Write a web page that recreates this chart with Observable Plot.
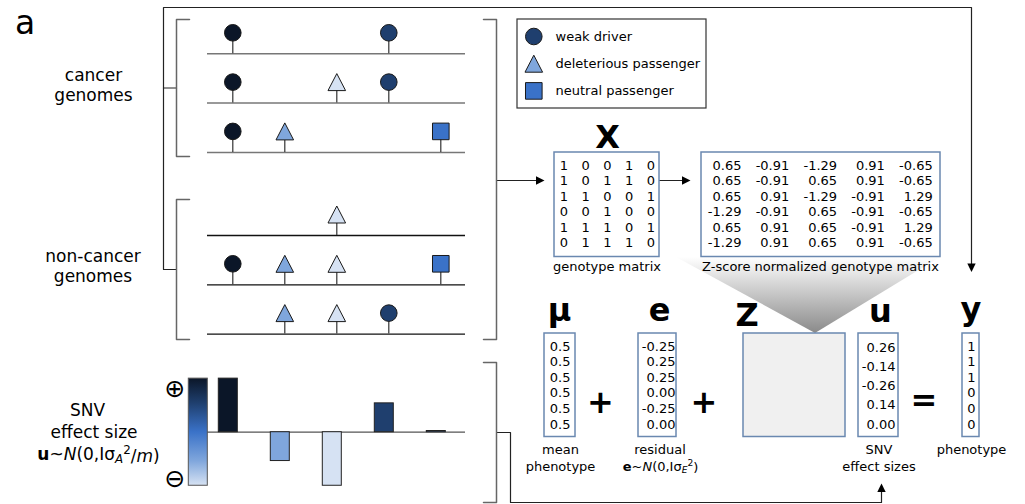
<!DOCTYPE html>
<html><head><meta charset="utf-8">
<script src="https://cdn.jsdelivr.net/npm/d3@7"></script>
<script src="https://cdn.jsdelivr.net/npm/@observablehq/plot@0.6"></script>
<style>body{margin:0;background:#fff}</style>
</head><body><div id="chart"></div>
<script>
// ---------------- DATA ----------------
const snvs = ["SNV1", "SNV2", "SNV3", "SNV4", "SNV5"];
const snvShapes = ["circle", "triangle", "triangle", "circle", "square"];
const effectSizes = [0.26, -0.14, -0.26, 0.14, 0.00];
const genomes = ["cancer 1", "cancer 2", "cancer 3", "non-cancer 1", "non-cancer 2", "non-cancer 3"];
const genomeGroup = ["cancer", "cancer", "cancer", "non-cancer", "non-cancer", "non-cancer"];
const groupNames = ["cancer", "non-cancer"];
const groupLabels = ["cancer\ngenomes", "non-cancer\ngenomes"];
const genotype = [
  [1, 0, 0, 1, 0],
  [1, 0, 1, 1, 0],
  [1, 1, 0, 0, 1],
  [0, 0, 1, 0, 0],
  [1, 1, 1, 0, 1],
  [0, 1, 1, 1, 0]
];
const zscores = [
  [0.65, -0.91, -1.29, 0.91, -0.65],
  [0.65, -0.91, 0.65, 0.91, -0.65],
  [0.65, 0.91, -1.29, -0.91, 1.29],
  [-1.29, -0.91, 0.65, -0.91, -0.65],
  [0.65, 0.91, 0.65, -0.91, 1.29],
  [-1.29, 0.91, 0.65, 0.91, -0.65]
];
const meanPhenotype = [0.5, 0.5, 0.5, 0.5, 0.5, 0.5];
const residuals = [-0.25, 0.25, 0.25, 0.00, -0.25, 0.00];
const phenotypes = [1, 1, 1, 0, 0, 0];
const legendLabels = ["weak driver", "deleterious passenger", "neutral passenger"];
const legendShapes = ["circle", "triangle", "square"];
const legendEffects = [0.14, -0.14, 0.00];
const matrixTitles = ["X", "μ", "e", "Z", "u", "y"];
const matrixCaptions = ["genotype matrix", "Z-score normalized genotype matrix"];

// ---------------- STYLE / LAYOUT ----------------
const W = 1025, H = 504;
const FONT = "DejaVu Sans";
const colorDomain = [-0.26, -0.14, 0, 0.14, 0.26];
const colorRange = ["#d6e2f3", "#7fa6dc", "#3a72c8", "#1f3f6e", "#0b1628"];
const BOX = "#6a88b0", GREY = "#666", DARK = "#222";
const L = {
  snvX0: 232.3, snvDx: 52,
  groupY0: {"cancer": 53.3, "non-cancer": 235}, rowDy: 49.3,
  lineX1: 207, lineX2: 465,
  markOff: 21, stem: 13,
  barBase: 431.7, barK: 206, barShift: -4.5, barHalf: 9.5,
  cbar: {x1: 188.3, x2: 207.3},
  genoCol0: 563.3, genoDx: 21.8, row0: 169.5, rowDy2: 15.4,
  zCol0: 741, zDx: 47.8,
  vecRow0: 350, vecDy: 15.6, uRow0: 351, uDy: 19.3
};
const snvX = j => L.snvX0 + j * L.snvDx;
const rowY = i => L.groupY0[genomeGroup[i]] + genomeGroup.slice(0, i).filter(g => g === genomeGroup[i]).length * L.rowDy;

const SYM = {
  circle: {draw(c) { c.moveTo(8.3, 0); c.arc(0, 0, 8.3, 0, 2 * Math.PI); c.closePath(); }},
  triangle: {draw(c) { c.moveTo(0, -8.5); c.lineTo(8.8, 8.5); c.lineTo(-8.8, 8.5); c.closePath(); }},
  square: {draw(c) { c.moveTo(-8.3, -8.3); c.lineTo(8.3, -8.3); c.lineTo(8.3, 8.3); c.lineTo(-8.3, 8.3); c.closePath(); }},
  arrow: {draw(c) { c.moveTo(0, 0); c.lineTo(-8.5, -4.2); c.lineTo(-8.5, 4.2); c.closePath(); }}
};

// ---------------- DERIVED TABLES ----------------
const genomeLines = genomes.map((g, i) => ({genome: g, group: genomeGroup[i], y: rowY(i), x1: L.lineX1, x2: L.lineX2}));
const mutations = genomes.flatMap((g, i) => snvs.map((s, j) => genotype[i][j] ? {
  genome: g, snv: s, shape: snvShapes[j], effect: effectSizes[j], x: snvX(j), line: rowY(i)
} : null).filter(Boolean));
const bars = snvs.map((s, j) => {
  const h = effectSizes[j] * L.barK;
  return {snv: s, effect: effectSizes[j], x1: snvX(j) + L.barShift - L.barHalf, x2: snvX(j) + L.barShift + L.barHalf,
    y1: L.barBase, y2: L.barBase - (Math.abs(h) < 1.2 ? 1.2 : h)};
});
const cbarMax = d3.max(colorDomain), cbarMin = d3.min(colorDomain);
const colorbar = [{x1: L.cbar.x1, x2: L.cbar.x2, y1: L.barBase - cbarMax * L.barK, y2: L.barBase - cbarMin * L.barK}];

const legendRows = legendLabels.map((label, k) => ({label, shape: legendShapes[k], effect: legendEffects[k], x: 533.3, y: 36 + k * 27.2}));

const genoTexts = genotype.flatMap((row, i) => row.map((v, j) => ({x: L.genoCol0 + j * L.genoDx, y: L.row0 + i * L.rowDy2, t: String(v)})));
const zTexts = zscores.flatMap((row, i) => row.map((v, j) => ({x: L.zCol0 + j * L.zDx, y: L.row0 + i * L.rowDy2, t: v.toFixed(2)})));
const muTexts = meanPhenotype.map((v, i) => ({x: 549.3, y: L.vecRow0 + i * L.vecDy, t: String(v)}));
const eTexts = residuals.map((v, i) => ({x: 675, y: L.vecRow0 + i * L.vecDy, t: v.toFixed(2)}));
const uTexts = effectSizes.map((v, i) => ({x: 895, y: L.uRow0 + i * L.uDy, t: v.toFixed(2)}));
const yTexts = phenotypes.map((v, i) => ({x: 971, y: L.vecRow0 + i * L.vecDy, t: String(v)}));

const boxes = [
  {id: "X", x1: 554, x2: 659, y1: 152, y2: 256.5},
  {id: "Zn", x1: 701, x2: 940, y1: 152, y2: 256.5},
  {id: "mu", x1: 544, x2: 575, y1: 333, y2: 436.5},
  {id: "e", x1: 638, x2: 676, y1: 333, y2: 436.5},
  {id: "u", x1: 858, x2: 898, y1: 333, y2: 436.5},
  {id: "y", x1: 962, x2: 979, y1: 333, y2: 436.5}
];
const zBox = [{x1: 743, x2: 845, y1: 333, y2: 436.5}];
const legendBox = [{x1: 517, x2: 706, y1: 19, y2: 108}];

const bracketL = (id, x, y1, y2) => [{id, x: x + 13, y: y1}, {id, x, y: y1}, {id, x, y: y2}, {id, x: x + 13, y: y2}];
const bracketR = (id, x, y1, y2) => [{id, x: x - 13, y: y1}, {id, x, y: y1}, {id, x, y: y2}, {id, x: x - 13, y: y2}];
const brackets = [
  ...bracketL("bc", 176, 19, 156),
  ...bracketL("bn", 176, 199, 339),
  ...bracketR("bg", 496, 19, 339),
  ...bracketR("be", 496, 362, 502)
];
const poly = (id, pts) => pts.map(([x, y]) => ({id, x, y}));
const connectors = [
  ...poly("c1", [[176, 87.5], [163, 87.5]]),
  ...poly("c2", [[176, 269], [163, 269], [163, 7], [971, 7], [971, 266]]),
  ...poly("c3", [[496, 180], [539, 180]]),
  ...poly("c4", [[659, 180], [685, 180]]),
  ...poly("c5", [[496, 432], [510, 432], [510, 502], [881, 502], [881, 488]])
];
const arrowHeads = [
  {x: 544, y: 180, rot: 0}, {x: 690, y: 180, rot: 0},
  {x: 971, y: 271.5, rot: 90}, {x: 881, y: 483, rot: -90}
];
const funnel = [{x: 676, top: 257, bot: 257}, {x: 815, top: 257, bot: 333}, {x: 940, top: 257, bot: 257}];

const txt = (data, opts) => Plot.text(data, {x: "x", y: "y", text: "t", fill: "black", lineAnchor: "bottom", ...opts});

const chart = Plot.plot({
  width: W, height: H, margin: 0,
  x: {domain: [0, W], range: [0, W], axis: null},
  y: {domain: [0, H], range: [0, H], axis: null},
  color: {type: "linear", domain: colorDomain, range: colorRange},
  style: {fontFamily: FONT, background: "white"},
  marks: [
    // funnel
    Plot.areaY(funnel, {x: "x", y1: "top", y2: "bot", fill: "url(#funnelGrad)", stroke: "none"}),
    // connectors & brackets
    Plot.line(connectors, {x: "x", y: "y", z: "id", stroke: DARK, strokeWidth: 1.2}),
    Plot.line(brackets, {x: "x", y: "y", z: "id", stroke: GREY, strokeWidth: 1.5}),
    Plot.dot(arrowHeads, {x: "x", y: "y", rotate: "rot", symbol: SYM.arrow, r: 5, fill: "black", stroke: "none"}),
    // genomes
    Plot.ruleY(genomeLines.filter(d => d.group === "cancer"), {y: "y", x1: "x1", x2: "x2", stroke: "#777", strokeWidth: 1.5}),
    Plot.ruleY(genomeLines.filter(d => d.group === "non-cancer"), {y: "y", x1: "x1", x2: "x2", stroke: "#111", strokeWidth: 1.3}),
    Plot.ruleX(mutations, {x: "x", y1: "line", y2: d => d.line - L.stem, stroke: "#333", strokeWidth: 1.2}),
    ...["circle", "triangle", "square"].map(s =>
      Plot.dot(mutations.filter(d => d.shape === s), {x: "x", y: d => d.line - L.markOff, symbol: SYM[s], r: 5, fill: "effect", stroke: "#1a1a1a", strokeWidth: 1})),
    // legend
    Plot.rect(legendBox, {x1: "x1", x2: "x2", y1: "y1", y2: "y2", fill: "white", stroke: "#333", strokeWidth: 1.2}),
    ...["circle", "triangle", "square"].map(s =>
      Plot.dot(legendRows.filter(d => d.shape === s), {x: "x", y: "y", symbol: SYM[s], r: 5, fill: "effect", stroke: "#1a1a1a", strokeWidth: 1})),
    Plot.text(legendRows, {x: 555, y: "y", text: "label", textAnchor: "start", fontSize: 13, fill: "black"}),
    // effect sizes
    Plot.ruleY([L.barBase], {x1: L.lineX1, x2: L.lineX2, stroke: "#555", strokeWidth: 1.3}),
    Plot.rect(colorbar, {x1: "x1", x2: "x2", y1: "y1", y2: "y2", fill: "url(#effGrad)", stroke: "#555", strokeWidth: 1}),
    Plot.rect(bars, {x1: "x1", x2: "x2", y1: "y1", y2: "y2", fill: "effect", stroke: "#222", strokeWidth: 1}),
    txt([{x: 174.3, y: 388, t: "⊕"}, {x: 174.3, y: 478, t: "⊖"}], {fontSize: 25, lineAnchor: "middle"}),
    // matrix boxes
    Plot.rect(boxes, {x1: "x1", x2: "x2", y1: "y1", y2: "y2", fill: "white", stroke: BOX, strokeWidth: 1.5}),
    Plot.rect(zBox, {x1: "x1", x2: "x2", y1: "y1", y2: "y2", fill: "#f0f0f0", stroke: BOX, strokeWidth: 1.5}),
    txt(genoTexts, {fontSize: 13, textAnchor: "middle"}),
    txt(zTexts, {fontSize: 13, textAnchor: "end"}),
    txt(muTexts, {fontSize: 13, textAnchor: "start"}),
    txt(eTexts, {fontSize: 13, textAnchor: "end"}),
    txt(uTexts, {fontSize: 13, textAnchor: "end"}),
    txt(yTexts, {fontSize: 13, textAnchor: "middle"}),
    // titles
    txt([{x: 607, y: 147, t: matrixTitles[0]}, {x: 559, y: 320, t: matrixTitles[1]}, {x: 659, y: 320, t: matrixTitles[2]},
         {x: 746.7, y: 325, t: matrixTitles[3]}, {x: 880, y: 321, t: matrixTitles[4]}, {x: 970.5, y: 319, t: matrixTitles[5]}],
        {fontSize: 32, fontWeight: "bold", textAnchor: "middle"}),
    txt([{x: 600, y: 402, t: "+"}, {x: 703.5, y: 402, t: "+"}, {x: 923.3, y: 400.5, t: "="}],
        {fontSize: 32, fontWeight: "bold", textAnchor: "middle", lineAnchor: "middle"}),
    txt([{x: 606.5, y: 270.5, t: matrixCaptions[0]}, {x: 820, y: 270.5, t: matrixCaptions[1]},
         {x: 560, y: 470, t: "mean\nphenotype"}, {x: 659.5, y: 453, t: "residual"}, {x: 660, y: 470, t: "eNE"},
         {x: 878.5, y: 470, t: "SNV\neffect sizes"}, {x: 971, y: 453, t: "phenotype"}],
        {fontSize: 13, textAnchor: "middle", lineHeight: 1.3}),
    // left labels
    txt([{x: 24.5, y: 33, t: "a"}], {fontSize: 33, textAnchor: "middle"}),
    txt(groupLabels.map((t, k) => ({x: [93, 92.5][k], y: [100.5, 281.5][k], t})), {fontSize: 17, textAnchor: "middle", lineHeight: 1.2}),
    txt([{x: 87, y: 415, t: "SNV"}, {x: 93.5, y: 437, t: "effect size"}, {x: 98, y: 459, t: "uNA"}], {fontSize: 17, textAnchor: "middle"})
  ]
});

document.getElementById("chart").appendChild(chart);
const svg = chart.tagName.toLowerCase() === "svg" ? chart : chart.querySelector("svg");

// gradients
const colorScale = chart.scale("color");
const defs = d3.select(svg).insert("defs", ":first-child");
const eg = defs.append("linearGradient").attr("id", "effGrad").attr("x1", 0).attr("y1", 0).attr("x2", 0).attr("y2", 1);
[...colorDomain].sort((a, b) => b - a).forEach(v => {
  eg.append("stop").attr("offset", (cbarMax - v) / (cbarMax - cbarMin)).attr("stop-color", colorScale.apply(v));
});
const fg = defs.append("linearGradient").attr("id", "funnelGrad").attr("x1", 0).attr("y1", 0).attr("x2", 0).attr("y2", 1);
fg.append("stop").attr("offset", 0).attr("stop-color", "#ffffff");
fg.append("stop").attr("offset", 1).attr("stop-color", "#8a8a8a");

// rich text (math notation)
function rich(placeholder, parts) {
  for (const t of svg.querySelectorAll("text")) {
    if (t.textContent !== placeholder) continue;
    t.textContent = "";
    let cur = 0;
    for (const p of parts) {
      const ts = document.createElementNS("http://www.w3.org/2000/svg", "tspan");
      const target = p.sub ? 0.3 : p.sup ? -0.45 : 0;
      if (target !== cur) ts.setAttribute("dy", (target - cur) + "em");
      cur = target;
      if (p.sub || p.sup) ts.setAttribute("font-size", "70%");
      if (p.b) ts.setAttribute("font-weight", "bold");
      if (p.i) ts.setAttribute("font-style", "italic");
      ts.textContent = p.t;
      t.appendChild(ts);
    }
  }
}
rich("uNA", [{t: "u", b: 1}, {t: "~"}, {t: "N", i: 1}, {t: "(0,Iσ"}, {t: "A", sub: 1, i: 1}, {t: "2", sup: 1}, {t: "/"}, {t: "m", i: 1}, {t: ")"}]);
rich("eNE", [{t: "e", b: 1}, {t: "~"}, {t: "N", i: 1}, {t: "(0,Iσ"}, {t: "E", sub: 1, i: 1}, {t: "2", sup: 1}, {t: ")"}]);
</script>
</body></html>
